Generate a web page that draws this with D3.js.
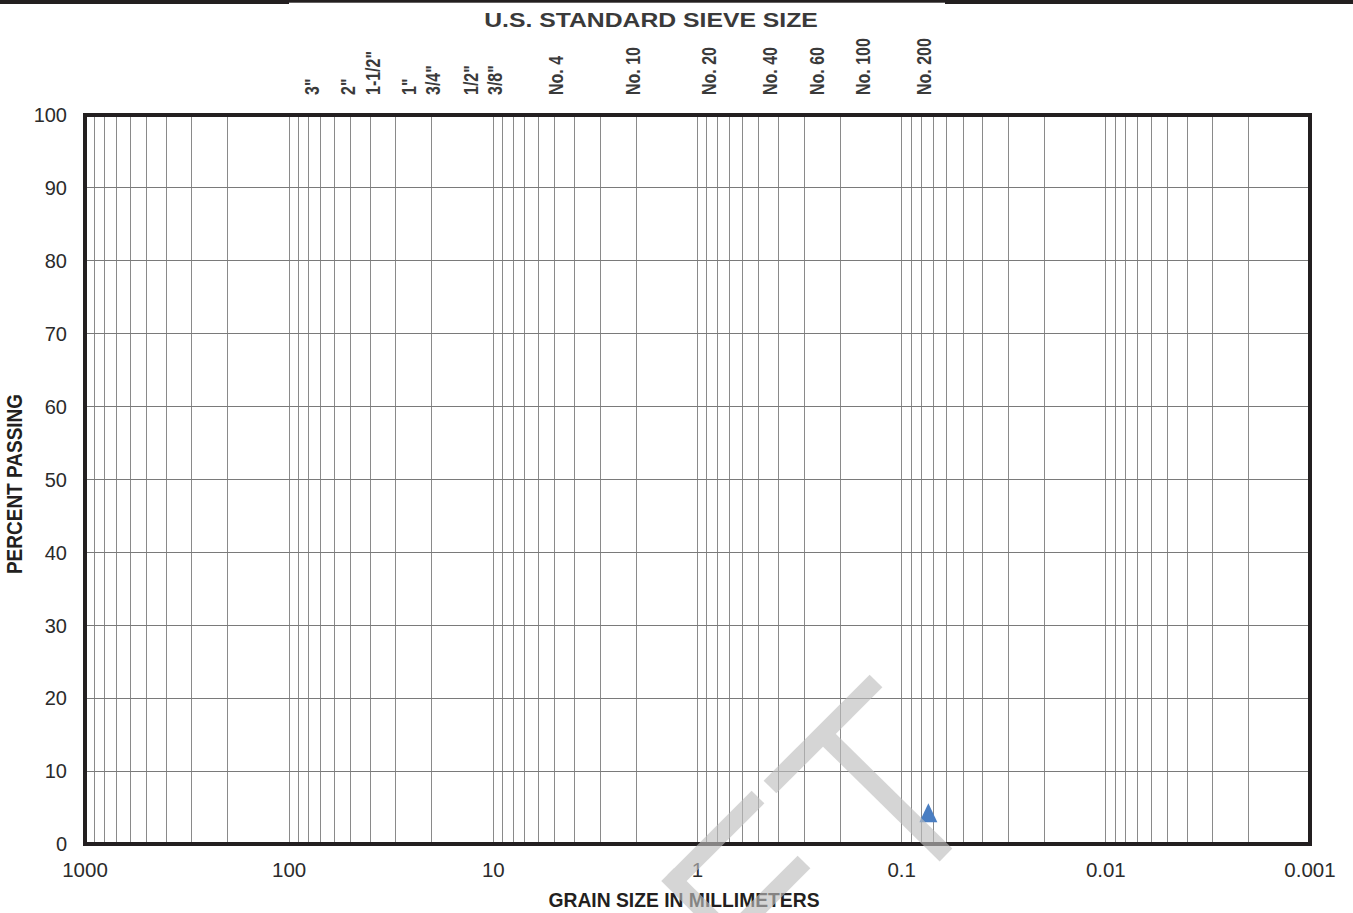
<!DOCTYPE html>
<html><head><meta charset="utf-8">
<script src="https://cdn.jsdelivr.net/npm/d3@7"></script>
<style>
body{margin:0;background:#fff}
svg{display:block}
text{font-family:"Liberation Sans",Arial,Helvetica,sans-serif}
</style>
</head><body>
<svg id="c" width="1353" height="913"></svg>
<script>
// ---- data ----
const sieveLabels = ['3"','2"','1-1/2"','1"','3/4"','1/2"','3/8"','No. 4','No. 10','No. 20','No. 40','No. 60','No. 100','No. 200'];
const sieveSizes  = [75, 50, 37.5, 25, 19, 12.5, 9.5, 4.75, 2, 0.85, 0.425, 0.25, 0.15, 0.075];
const xTickValues = [1000, 100, 10, 1, 0.1, 0.01, 0.001];
const xTickLabels = ['1000','100','10','1','0.1','0.01','0.001'];
const yTickValues = [0,10,20,30,40,50,60,70,80,90,100];
const yTickLabels = ['0','10','20','30','40','50','60','70','80','90','100'];
const sampleSize    = [0.074];
const samplePassing = [4.3];

// ---- layout ----
const svg = d3.select('#c');
const L = 85, R = 1310, T = 115, B = 844;
const x = d3.scaleLog().domain([1000, 0.001]).range([L, R]);
const y = d3.scaleLinear().domain([0, 100]).range([B, T]);
const ink = '#231f20';

// top bars (page rule)
svg.append('rect').attr('x',0).attr('y',0).attr('width',289).attr('height',4).attr('fill',ink);
svg.append('rect').attr('x',289).attr('y',0).attr('width',656).attr('height',2.7).attr('fill',ink);
svg.append('rect').attr('x',945).attr('y',0).attr('width',408).attr('height',4).attr('fill',ink);

// vertical grid (log minor lines)
const vlines = [];
for (let e = -3; e < 3; e++) for (let m = 1; m <= 9; m++) vlines.push(m * Math.pow(10, e));
vlines.push(1000);
svg.append('g').selectAll('line').data(vlines).join('line')
  .attr('x1', d => x(d)).attr('x2', d => x(d)).attr('y1', T).attr('y2', B)
  .attr('stroke', '#8a8a8a').attr('stroke-width', 1).attr('shape-rendering','crispEdges');

// horizontal grid
svg.append('g').selectAll('line').data(yTickValues).join('line')
  .attr('x1', L).attr('x2', R).attr('y1', d => y(d)).attr('y2', d => y(d))
  .attr('stroke', '#7a7a7a').attr('stroke-width', 1).attr('shape-rendering','crispEdges');

// frame
svg.append('rect').attr('x', L).attr('y', T).attr('width', R - L).attr('height', B - T)
  .attr('fill', 'none').attr('stroke', ink).attr('stroke-width', 4);

// y tick labels
svg.append('g').selectAll('text').data(yTickValues).join('text')
  .attr('x', 67).attr('y', d => y(d)).attr('dy', '0.36em')
  .attr('text-anchor', 'end').attr('font-size', 20).attr('fill', '#2b2b2b')
  .text((d, i) => yTickLabels[i]);

// x tick labels
svg.append('g').selectAll('text').data(xTickValues).join('text')
  .attr('x', d => x(d)).attr('y', 877)
  .attr('text-anchor', 'middle').attr('font-size', 20.5).attr('fill', '#2b2b2b')
  .text((d, i) => xTickLabels[i]);

// sieve labels
svg.append('g').selectAll('text').data(sieveSizes).join('text')
  .attr('transform', d => `translate(${x(d) + 4},95) scale(1.3,1) rotate(-90)`)
  .attr('font-size', 16).attr('font-weight', 'bold').attr('fill', '#3a3a3a')
  .text((d, i) => sieveLabels[i]);

// title
svg.append('text')
  .attr('transform', 'translate(651,27) scale(1.27,1)')
  .attr('text-anchor', 'middle').attr('font-size', 19.5).attr('font-weight', 'bold').attr('fill', '#3a3a3a')
  .text('U.S. STANDARD SIEVE SIZE');

// axis titles
svg.append('text')
  .attr('transform', 'translate(22,484) scale(1.15,1) rotate(-90)')
  .attr('text-anchor', 'middle').attr('font-size', 19).attr('font-weight', 'bold').attr('fill', ink)
  .text('PERCENT PASSING');
svg.append('text')
  .attr('x', 684).attr('y', 907)
  .attr('text-anchor', 'middle').attr('font-size', 19.3).attr('font-weight', 'bold').attr('fill', ink)
  .text('GRAIN SIZE IN MILLIMETERS');

// data point (triangle marker)
const tri = d3.path();
svg.append('g').selectAll('path').data(sampleSize).join('path')
  .attr('d', (d, i) => {
    const cx = x(d), cy = y(samplePassing[i]);
    return `M${cx},${cy - 9.5}L${cx + 9},${cy + 9.5}L${cx - 9},${cy + 9.5}Z`;
  })
  .attr('fill', '#4a7ec2');

// watermark
const wm = svg.append('g').attr('opacity', 0.63).attr('stroke', '#bebebe').attr('stroke-width', 18).attr('fill', 'none');
wm.append('line').attr('x1', 770).attr('y1', 787).attr('x2', 876).attr('y2', 681).attr('stroke-linecap','butt');
wm.append('line').attr('x1', 823).attr('y1', 734).attr('x2', 946).attr('y2', 855).attr('stroke-linecap','butt');
wm.append('line').attr('x1', 758).attr('y1', 797).attr('x2', 674).attr('y2', 881).attr('stroke-linecap','butt');
wm.append('line').attr('x1', 674).attr('y1', 881).attr('x2', 800).attr('y2', 1007).attr('stroke-linecap','square');
wm.append('line').attr('x1', 804).attr('y1', 862).attr('x2', 731).attr('y2', 935).attr('stroke-linecap','butt');
</script>
</body></html>
